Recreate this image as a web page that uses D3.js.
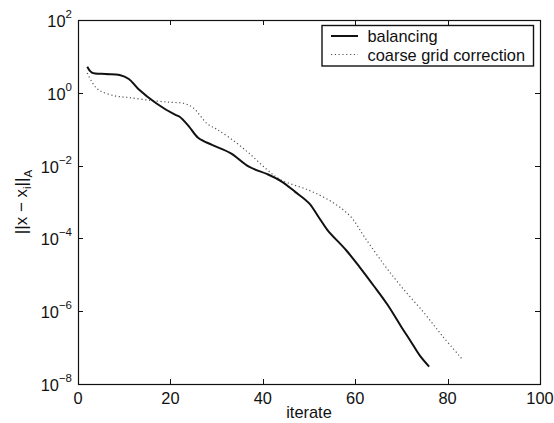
<!DOCTYPE html>
<html><head><meta charset="utf-8">
<script src="https://cdn.jsdelivr.net/npm/d3@7"></script>
<style>
html,body{margin:0;padding:0;background:#fff;}
text{font-family:"Liberation Sans",Arial,Helvetica,sans-serif;fill:#111;}
</style></head>
<body><svg id="c" width="554" height="423"></svg>
<script>
// ---- data ----
const balIter = [2, 3, 6, 9, 11, 13, 17, 21, 22, 24, 26, 29, 33, 37, 41, 44, 47, 50, 52, 54, 58, 61, 64, 67, 70, 72, 74, 76];
const balVal  = [5.2, 3.6, 3.3, 3.1, 2.4, 1.3, 0.51, 0.25, 0.22, 0.12, 0.058, 0.037, 0.022, 0.0093, 0.0058, 0.0037, 0.0019, 0.00093, 0.0004, 0.00017, 4.8e-5, 1.6e-5, 5e-6, 1.5e-6, 3.7e-7, 1.5e-7, 6e-8, 3e-8];
const cgcIter = [2, 3, 4, 5, 8, 11, 16, 20, 23, 25, 28, 30, 33, 37, 41, 44, 50, 55, 59, 62, 66, 70, 75, 79, 83];
const cgcVal  = [3.5, 2.0, 1.35, 1.1, 0.82, 0.74, 0.61, 0.55, 0.51, 0.38, 0.14, 0.1, 0.056, 0.022, 0.0076, 0.004, 0.0021, 0.001, 0.0004, 1.1e-4, 2.1e-5, 4.7e-6, 8.7e-7, 2e-7, 5.1e-8];
const xTicks = [0, 20, 40, 60, 80, 100];
const yTickExps = [2, 0, -2, -4, -6, -8];
const seriesNames = ["balancing", "coarse grid correction"];
const xLabel = "iterate";

// ---- layout ----
const svg = d3.select("#c");
const L = 78, T = 20, W = 462, H = 364;
const FS = 16.4;
const x = d3.scaleLinear().domain([0, 100]).range([L, L + W]);
const y = d3.scaleLog().domain([1e-8, 1e2]).range([T + H, T]);

const g = svg.append("g");
g.append("rect").attr("x", L + 0.5).attr("y", T + 0.5).attr("width", W).attr("height", H)
  .attr("fill", "none").attr("stroke", "#111").attr("stroke-width", 1.2);

const tl = 5;
xTicks.forEach(t => {
  const px = Math.round(x(t)) + 0.5;
  g.append("line").attr("x1", px).attr("x2", px).attr("y1", T + H).attr("y2", T + H - tl).attr("stroke", "#111");
  g.append("line").attr("x1", px).attr("x2", px).attr("y1", T).attr("y2", T + tl).attr("stroke", "#111");
  g.append("text").attr("x", x(t)).attr("y", 403.5).attr("text-anchor", "middle")
    .attr("font-size", FS).text(t);
});
yTickExps.forEach(e => {
  const py = Math.round(y(Math.pow(10, e))) + 0.5;
  g.append("line").attr("x1", L).attr("x2", L + tl).attr("y1", py).attr("y2", py).attr("stroke", "#111");
  g.append("line").attr("x1", L + W).attr("x2", L + W - tl).attr("y1", py).attr("y2", py).attr("stroke", "#111");
  const t = g.append("text").attr("x", 72).attr("y", py + 6).attr("text-anchor", "end").attr("font-size", FS);
  t.append("tspan").text("10");
  t.append("tspan").attr("dy", -9).attr("font-size", 11.5).text(e < 0 ? "\u2212" + (-e) : String(e));
});

g.append("text").attr("x", x(50)).attr("y", 417.5).attr("text-anchor", "middle").attr("font-size", FS).text(xLabel);
const yl = g.append("text").attr("transform", "translate(27," + (T + H / 2) + ") rotate(-90)")
  .attr("text-anchor", "middle").attr("font-size", 17);
yl.append("tspan").text("||x \u2212 x");
yl.append("tspan").attr("dy", 4).attr("font-size", 11.5).text("i");
yl.append("tspan").attr("dy", -4).text("||");
yl.append("tspan").attr("dy", 5).attr("font-size", 11.5).text("A");

const line = d3.line().x(d => x(d[0])).y(d => y(d[1])).curve(d3.curveCatmullRom.alpha(0.5));
const balData = balIter.map((v, i) => [v, balVal[i]]);
const cgcData = cgcIter.map((v, i) => [v, cgcVal[i]]);
g.append("path").datum(cgcData).attr("d", line).attr("fill", "none")
  .attr("stroke", "#555").attr("stroke-width", 1.2).attr("stroke-dasharray", "1.2,2.6");
g.append("path").datum(balData).attr("d", line).attr("fill", "none")
  .attr("stroke", "#111").attr("stroke-width", 2);

const lg = g.append("g");
lg.append("rect").attr("x", 322).attr("y", 25.5).attr("width", 211.5).attr("height", 40.5)
  .attr("fill", "#fff").attr("stroke", "#111").attr("stroke-width", 1.4);
lg.append("line").attr("x1", 331).attr("x2", 358).attr("y1", 36).attr("y2", 36)
  .attr("stroke", "#111").attr("stroke-width", 2);
lg.append("line").attr("x1", 331).attr("x2", 358).attr("y1", 54.5).attr("y2", 54.5)
  .attr("stroke", "#555").attr("stroke-width", 1.2).attr("stroke-dasharray", "1.2,2.6");
lg.append("text").attr("x", 367.5).attr("y", 41.5).attr("font-size", FS).text(seriesNames[0]);
lg.append("text").attr("x", 367.5).attr("y", 60.5).attr("font-size", FS).text(seriesNames[1]);
</script></body></html>
